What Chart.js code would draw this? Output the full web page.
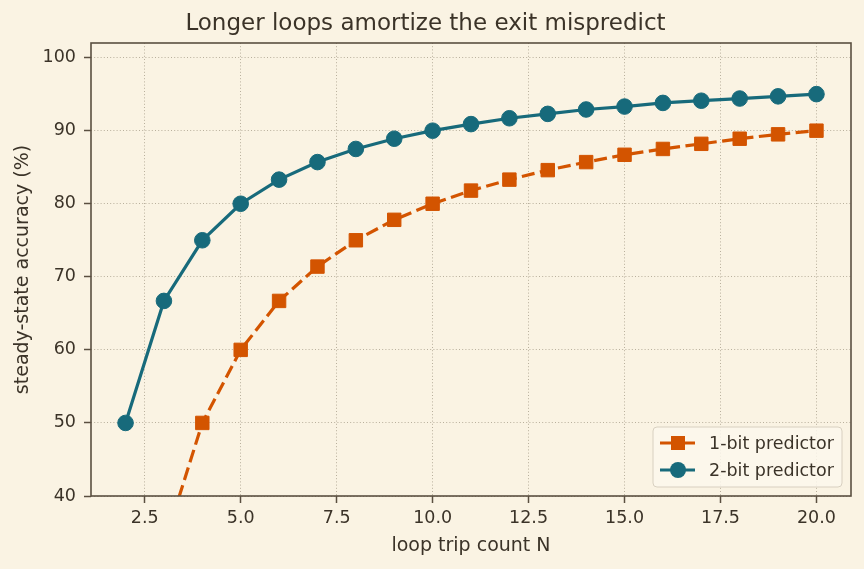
<!DOCTYPE html>
<html>
<head>
<meta charset="utf-8">
<script src="https://cdn.jsdelivr.net/npm/chart.js@4.4.1/dist/chart.umd.min.js"></script>
<style>
    html, body { margin: 0; padding: 0; background: #faf3e3; }
    canvas { display: block; }
</style>
</head>
<body>
<canvas id="Graphique" width="864" height="569"></canvas>
<script>
// Données
const loopCounts = [2, 3, 4, 5, 6, 7, 8, 9, 10, 11, 12, 13, 14, 15, 16, 17, 18, 19, 20];
const oneBitAcc = [0, 33.3, 50, 60, 66.7, 71.4, 75, 77.8, 80, 81.8, 83.3, 84.6, 85.7, 86.7, 87.5, 88.2, 88.9, 89.5, 90];
const twoBitAcc = [50, 66.7, 75, 80, 83.3, 85.7, 87.5, 88.9, 90, 90.9, 91.7, 92.3, 92.9, 93.3, 93.8, 94.1, 94.4, 94.7, 95];
const xTicks = [2.5, 5, 7.5, 10, 12.5, 15, 17.5, 20];
const yTicks = [40, 50, 60, 70, 80, 90, 100];

const police = "'DejaVu Sans', sans-serif";
const couleurTexte = "#3b3328";
const couleurAxe = "#5a4f40";
const couleurGrille = "#b8af9c";
const orange = "#d35400";
const bleu = "#176a7b";

// Cadre + légende dessinés dans la zone du graphique
const cadreEtLegende = {
    id: "cadreEtLegende",
    afterDatasetsDraw(chart) {
        const ctx = chart.ctx;
        const a = chart.chartArea;
        ctx.save();
        ctx.strokeStyle = couleurAxe;
        ctx.lineWidth = 1.6;
        ctx.strokeRect(a.left, a.top, a.right - a.left, a.bottom - a.top);

        // légende en bas à droite
        const bx = 653, by = 427, bw = 189, bh = 60;
        ctx.beginPath();
        ctx.roundRect(bx, by, bw, bh, 4);
        ctx.fillStyle = "rgba(252, 247, 236, 0.85)";
        ctx.fill();
        ctx.strokeStyle = "#d8d0c0";
        ctx.lineWidth = 1;
        ctx.stroke();

        chart.data.datasets.forEach((ds, i) => {
            const y = by + 16 + i * 27;
            ctx.strokeStyle = ds.borderColor;
            ctx.lineWidth = ds.borderWidth;
            ctx.beginPath();
            ctx.moveTo(660, y);
            ctx.lineTo(695, y);
            ctx.stroke();
            ctx.fillStyle = ds.borderColor;
            if (ds.pointStyle === "rect") {
                ctx.fillRect(678 - 7, y - 7, 14, 14);
            } else {
                ctx.beginPath();
                ctx.arc(678, y, 8, 0, Math.PI * 2);
                ctx.fill();
            }
            ctx.fillStyle = couleurTexte;
            ctx.font = "17.5px " + police;
            ctx.textBaseline = "middle";
            ctx.textAlign = "left";
            ctx.fillText(ds.label, 709, y + 1);
        });
        ctx.restore();
    }
};

const graph = document.getElementById("Graphique").getContext("2d");
new Chart(graph, {
    type: "line",
    data: {
        datasets: [{
            label: "1-bit predictor",
            data: loopCounts.map((n, i) => ({ x: n, y: oneBitAcc[i] })),
            borderColor: orange,
            backgroundColor: orange,
            borderWidth: 3.2,
            borderDash: [13, 5.5],
            pointStyle: "rect",
            pointRadius: 9.5,
            pointBorderWidth: 1,
            pointBorderColor: orange,
            pointBackgroundColor: orange,
            tension: 0
        }, {
            label: "2-bit predictor",
            data: loopCounts.map((n, i) => ({ x: n, y: twoBitAcc[i] })),
            borderColor: bleu,
            backgroundColor: bleu,
            borderWidth: 3.2,
            pointStyle: "circle",
            pointRadius: 7.8,
            pointBorderWidth: 1,
            pointBorderColor: bleu,
            pointBackgroundColor: bleu,
            tension: 0
        }]
    },
    options: {
        responsive: false,
        animation: false,
        layout: { padding: { left: 0, right: 13, top: 0, bottom: 0 } },
        plugins: {
            legend: { display: false },
            tooltip: { enabled: false },
            title: {
                display: true,
                text: "Longer loops amortize the exit mispredict",
                color: couleurTexte,
                font: { family: police, size: 23, weight: "normal" },
                padding: { top: 10.5, bottom: 4.9 }
            }
        },
        scales: {
            x: {
                type: "linear",
                min: 1.1,
                max: 20.9,
                afterBuildTicks: scale => { scale.ticks = xTicks.map(v => ({ value: v })); },
                afterFit: scale => { scale.height = 73; },
                ticks: {
                    color: couleurTexte,
                    font: { family: police, size: 17.5 },
                    padding: 5,
                    maxRotation: 0,
                    autoSkip: false,
                    callback: v => v.toFixed(1)
                },
                grid: {
                    color: couleurGrille,
                    lineWidth: 1,
                    tickColor: couleurAxe,
                    tickLength: 7,
                    tickWidth: 1.5,
                    tickBorderDash: []
                },
                border: { display: false, dash: [1, 2.2] },
                title: {
                    display: true,
                    text: "loop trip count N",
                    color: couleurTexte,
                    font: { family: police, size: 19 },
                    padding: { top: 12, bottom: 12 }
                }
            },
            y: {
                min: 40,
                max: 102,
                afterBuildTicks: scale => { scale.ticks = yTicks.map(v => ({ value: v })); },
                afterFit: scale => { scale.width = 91; },
                ticks: {
                    color: couleurTexte,
                    font: { family: police, size: 17.5 },
                    padding: 8,
                    autoSkip: false
                },
                grid: {
                    color: couleurGrille,
                    lineWidth: 1,
                    tickColor: couleurAxe,
                    tickLength: 7,
                    tickWidth: 1.5,
                    tickBorderDash: []
                },
                border: { display: false, dash: [1, 2.2] },
                title: {
                    display: true,
                    text: "steady-state accuracy (%)",
                    color: couleurTexte,
                    font: { family: police, size: 19 },
                    padding: { top: 12, bottom: 12 }
                }
            }
        }
    },
    plugins: [cadreEtLegende]
});
</script>
</body>
</html>
